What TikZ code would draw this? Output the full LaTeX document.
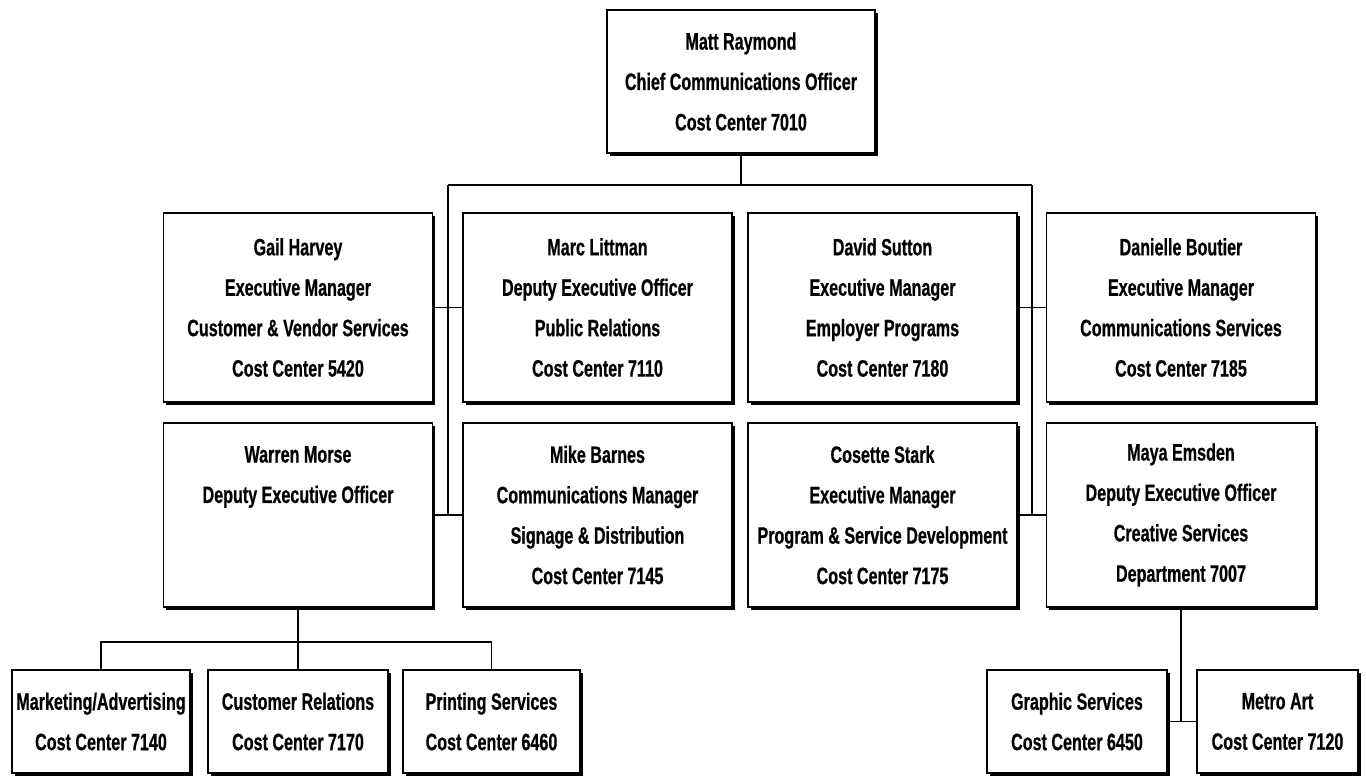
\documentclass[tikz,border=0pt]{standalone}
\usepackage{fontspec}
\setmainfont{Liberation Sans}[FakeStretch=0.68, BoldFeatures={FakeBold=0.6}]
\usetikzlibrary{shadows}

\begin{document}
\begin{tikzpicture}[x=0.02cm, y=-0.02cm,
  font=\fontsize{13.5}{23}\selectfont\bfseries,
  box/.style={draw, line width=0.8pt, fill=white, align=center, inner sep=0pt,
    drop shadow={shadow xshift=1.6pt, shadow yshift=-1.6pt, opacity=1, fill=black}},
  link/.style={line width=1.1pt}]

\fill[white] (0,0) rectangle (1366,776);
\useasboundingbox (0,0) rectangle (1366,776);

\def\rowA{307.5}  % first row of managers
\def\rowB{515}    % second row
\def\rowC{721.5}  % cost centres
\def\colA{298}
\def\colB{597.5}
\def\colC{882.5}
\def\colD{1181}

% chief
\node[box, minimum width=5.36cm, minimum height=2.86cm] (chief) at (741,81.5)
  {Matt Raymond\\Chief Communications Officer\\Cost Center 7010};

% managers
\foreach \nm/\x/\y/\h/\txt in {
  gail/\colA/\rowA/3.78/{Gail Harvey\\Executive Manager\\Customer \& Vendor Services\\Cost Center 5420},
  marc/\colB/\rowA/3.78/{Marc Littman\\Deputy Executive Officer\\Public Relations\\Cost Center 7110},
  david/\colC/\rowA/3.78/{David Sutton\\Executive Manager\\Employer Programs\\Cost Center 7180},
  danielle/\colD/\rowA/3.78/{Danielle Boutier\\Executive Manager\\Communications Services\\Cost Center 7185},
  warren/\colA/\rowB/3.68/{Warren Morse\\Deputy Executive Officer\\~\\~},
  mike/\colB/\rowB/3.68/{Mike Barnes\\Communications Manager\\Signage \& Distribution\\Cost Center 7145},
  cosette/\colC/\rowB/3.68/{Cosette Stark\\Executive Manager\\Program \& Service Development\\Cost Center 7175},
  maya/\colD/\rowB/3.68/{Maya Emsden\\Deputy Executive Officer\\Creative Services\\Department 7007}}
{
  \node[box, minimum width=5.38cm, minimum height=\h cm] (\nm) at (\x,\y) {\txt};
}

% cost centres
\foreach \nm/\x/\w/\txt in {
  mkt/101/3.56/{Marketing/Advertising\\Cost Center 7140},
  crel/298/3.6/{Customer Relations\\Cost Center 7170},
  prt/491.5/3.54/{Printing Services\\Cost Center 6460},
  graph/1077/3.6/{Graphic Services\\Cost Center 6450},
  metro/1277.5/3.22/{Metro Art\\Cost Center 7120}}
{
  \node[box, minimum width=\w cm, minimum height=2.06cm] (\nm) at (\x,\rowC) {\txt};
}

% lines
\coordinate (busL) at (448,185);
\coordinate (busR) at (1032,185);
\coordinate (wbus) at (298,642);

\draw[link] (chief.south) -- (chief.south |- busL);
\draw[link] (busL) -- (busR);
\draw[link] (busL) -- (busL |- warren.east);
\draw[link] (busR) -- (busR |- maya.west);
\draw[link] (gail.east) -- (marc.west);
\draw[link] (warren.east) -- (mike.west);
\draw[link] (david.east) -- (danielle.west);
\draw[link] (cosette.east) -- (maya.west);

\draw[link] (warren.south) -- (wbus);
\draw[link] (mkt.north) -- (mkt.north |- wbus) -- (prt.north |- wbus) -- (prt.north);
\draw[link] (wbus) -- (crel.north);

\draw[link] (maya.south) -- (maya.south |- graph.east);
\draw[link] (graph.east) -- (metro.west);

\end{tikzpicture}
\end{document}
